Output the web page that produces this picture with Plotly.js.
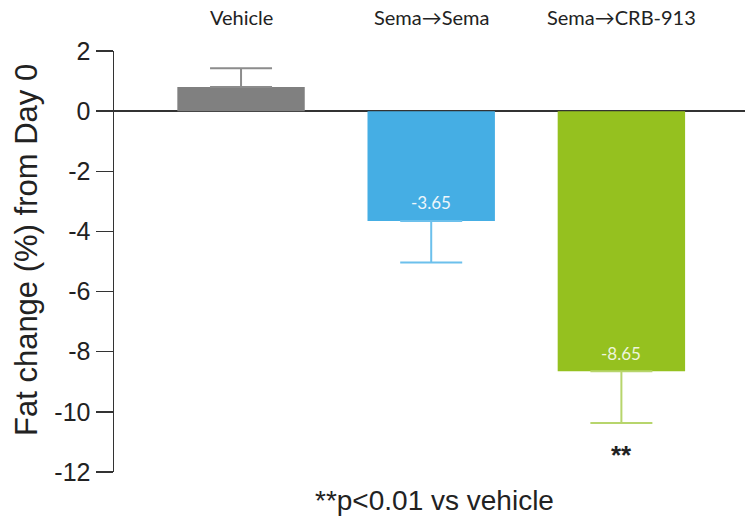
<!DOCTYPE html>
<html>
<head>
<meta charset="utf-8">
<script src="https://cdn.plot.ly/plotly-3.0.1.min.js"></script>
<style>html,body{margin:0;padding:0;background:#fff;}#chart{width:751px;height:523px;}</style>
</head>
<body>
<div id="chart"></div>
<script>
const categories = ["Vehicle", "Sema→Sema", "Sema→CRB-913"];
const values = [0.8, -3.65, -8.65];
const errPlus = [0.63, 0, 0];
const errMinus = [0, 1.38, 1.72];
const valueLabels = ["", "-3.65", "-8.65"];
const barColors = ["#808080", "#45aee4", "#95c11f"];
const errColors = ["#8c8c8c", "#6cc0ec", "#b7d56c"];
const labelColors = ["#ffffff", "#eef6fb", "#eef5dc"];
const yTicks = [2, 0, -2, -4, -6, -8, -10, -12];
const sigMarks = ["", "", "**"];
const sigY = [null, null, -11.45];
const yTitle = "Fat change (%) from Day 0";
const footnote = "**p<0.01 vs vehicle";

const traces = categories.map((c, i) => ({
  type: "bar",
  x: [c],
  y: [values[i]],
  width: 0.67,
  marker: {color: barColors[i]},
  error_y: {type: "data", symmetric: false, array: [errPlus[i]], arrayminus: [errMinus[i]],
            color: errColors[i], thickness: 2, width: 31},
  hoverinfo: "skip",
  showlegend: false
}));

const annotations = [];
categories.forEach((c, i) => {
  annotations.push({x: c, xref: "x", y: 1, yref: "paper", yshift: 34, yanchor: "middle",
    text: c, showarrow: false, font: {family: "Lato, 'Open Sans', sans-serif", size: 20, color: "#222"}});
  if (valueLabels[i]) {
    annotations.push({x: c, xref: "x", y: values[i], yref: "y", yshift: values[i] < 0 ? 18 : -18, yanchor: "middle",
      text: valueLabels[i], showarrow: false,
      font: {family: "Lato, 'Open Sans', sans-serif", size: 17, color: labelColors[i]}});
  }
  if (sigMarks[i]) {
    annotations.push({x: c, xref: "x", y: sigY[i], yref: "y", text: "<b>" + sigMarks[i] + "</b>",
      showarrow: false, font: {family: "'Liberation Sans', Arial, sans-serif", size: 26, color: "#222"}});
  }
});
annotations.push({x: (26 - 114) / 631, xref: "paper", y: (472 - 250) / 421, yref: "paper", text: yTitle,
  textangle: -90, showarrow: false, xanchor: "center", yanchor: "middle",
  font: {family: "'Liberation Sans', Arial, sans-serif", size: 31, color: "#222"}});
annotations.push({x: (434 - 114) / 631, xref: "paper", y: 0, yref: "paper", yshift: -28, yanchor: "middle",
  text: footnote, showarrow: false,
  font: {family: "'Liberation Sans', Arial, sans-serif", size: 28, color: "#222"}});

const layout = {
  width: 751, height: 523,
  margin: {l: 114, r: 6, t: 51, b: 51},
  paper_bgcolor: "#ffffff", plot_bgcolor: "#ffffff",
  barmode: "overlay",
  xaxis: {type: "category", range: [-0.668, 2.65], showticklabels: false, ticks: "",
          showline: false, showgrid: false, zeroline: false, fixedrange: true},
  yaxis: {range: [-12, 2], tickvals: yTicks, ticktext: yTicks.map(String), ticks: "outside", ticklen: 17,
          tickwidth: 1.5, tickcolor: "#333", showline: true, linecolor: "#333", linewidth: 1.5,
          showgrid: false, zeroline: true, zerolinecolor: "#333", zerolinewidth: 2,
          tickfont: {family: "'Liberation Sans', Arial, sans-serif", size: 25, color: "#222"}, fixedrange: true},
  annotations: annotations,
  font: {family: "'Liberation Sans', Arial, sans-serif"}
};

Plotly.newPlot("chart", traces, layout, {displayModeBar: false, staticPlot: true});
</script>
</body>
</html>
